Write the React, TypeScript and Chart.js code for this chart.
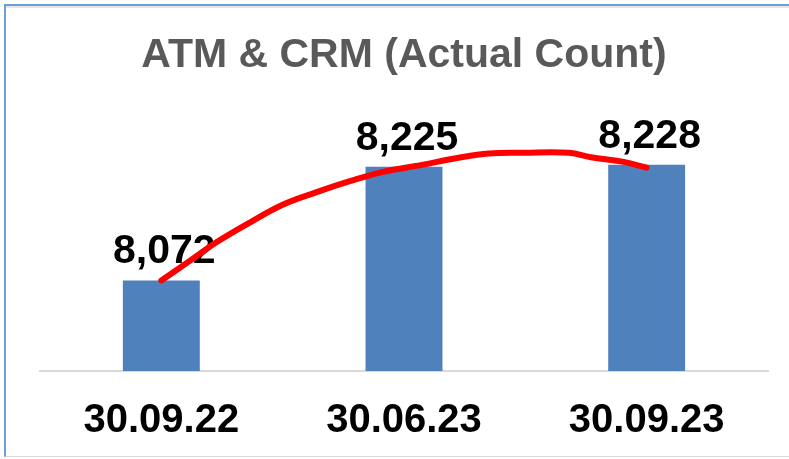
import React, { useEffect, useRef } from "react";
import { Chart, registerables } from "chart.js";

Chart.register(...registerables);

const categories = ["30.09.22", "30.06.23", "30.09.23"];
const counts = [8072, 8225, 8228];
const countLabels = ["8,072", "8,225", "8,228"];
// hand-drawn red trend annotation (x in category units, y in count units)
const curveX = [0, 0.12, 0.23, 0.37, 0.5, 0.64, 0.78, 0.91, 1.08, 1.22, 1.35, 1.49, 1.68, 1.77, 1.9, 2.0];
const curveY = [8072, 8099, 8124, 8151, 8174, 8191, 8206, 8218, 8228, 8237, 8243, 8244, 8244, 8238, 8232, 8224];
const titleText = "ATM & CRM (Actual Count)";

const FONT = "'Liberation Sans', Arial, sans-serif";

const labelPlugin = {
  id: "barLabels",
  afterDatasetDraw(chart: any, args: any) {
    const meta = chart.getDatasetMeta(args.index);
    if (meta.type !== "bar") return;
    const ctx = chart.ctx;
    ctx.save();
    ctx.font = `bold 41px ${FONT}`;
    ctx.fillStyle = "#000000";
    ctx.textAlign = "center";
    ctx.textBaseline = "alphabetic";
    meta.data.forEach((el: any, i: number) => {
      ctx.fillText(countLabels[i], el.x + 3, el.y - 17);
    });
    ctx.restore();
  },
};

export default function App() {
  const ref = useRef<HTMLCanvasElement>(null);
  useEffect(() => {
    if (!ref.current) return;
    const chart = new Chart(ref.current, {
      type: "bar",
      data: {
        labels: categories,
        datasets: [
          {
            type: "line",
            data: curveX.map((x, i) => ({ x, y: curveY[i] })),
            xAxisID: "xc",
            yAxisID: "y",
            borderColor: "#FF0000",
            borderWidth: 6,
            pointRadius: 0,
            tension: 0.4,
            borderCapStyle: "round",
            borderJoinStyle: "round",
            order: 0,
          } as any,
          {
            type: "bar",
            data: counts,
            backgroundColor: "#4F81BD",
            categoryPercentage: 1,
            barPercentage: 0.317,
            grouped: false,
            xAxisID: "x",
            yAxisID: "y",
            order: 1,
          },
        ],
      },
      options: {
        responsive: false,
        animation: false,
        layout: { padding: { left: 40, right: 21, top: 31, bottom: 14 } },
        plugins: {
          legend: { display: false },
          tooltip: { enabled: false },
          title: {
            display: true,
            text: titleText,
            color: "#595959",
            font: { family: FONT, size: 41, weight: "bold" },
            padding: { top: 0, bottom: 31 },
          },
        },
        scales: {
          x: {
            type: "category",
            grid: { display: false, drawTicks: false },
            border: { display: true, color: "#D9D9D9", width: 2 },
            ticks: {
              color: "#000000",
              font: { family: FONT, size: 40, weight: "bold" },
              padding: 26,
            },
            afterFit(scale: any) {
              scale.height = 74;
            },
          },
          xc: {
            type: "linear",
            display: false,
            offset: false,
            min: -0.5,
            max: 2.5,
          },
          y: {
            display: false,
            min: 7950,
            max: 8300,
          },
        },
      },
      plugins: [labelPlugin],
    } as any);
    return () => chart.destroy();
  }, []);

  return (
    <div style={{ position: "absolute", left: 0, top: 0, width: 789, height: 459, background: "#fff", overflow: "hidden" }}>
      <div
        style={{
          position: "absolute",
          left: 4,
          top: 4,
          width: 800,
          height: 450,
          borderTop: "2px solid #6A9FD9",
          borderLeft: "2px solid #6A9FD9",
          borderBottom: "1px solid #D9D9D9",
          boxShadow: "inset 0 2px 0 #E6E6E6",
        }}
      />
      <canvas ref={ref} width={789} height={459} style={{ position: "absolute", left: 0, top: 0 }} />
    </div>
  );
}
